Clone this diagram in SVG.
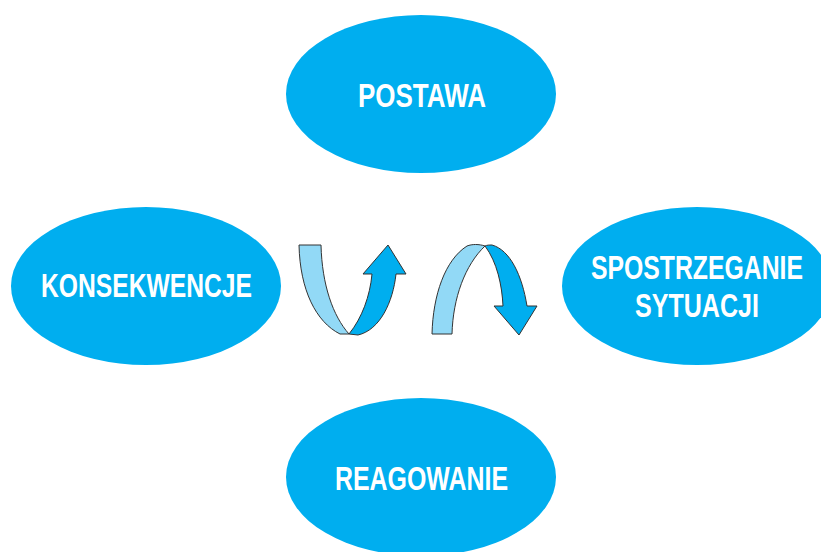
<svg xmlns="http://www.w3.org/2000/svg" width="821" height="552" viewBox="0 0 821 552">
<style>
.node{fill:#00AEEF}
.lbl{fill:#ffffff;font-family:"Liberation Sans",Arial,sans-serif;font-weight:bold;font-size:33px}
.light{fill:#92D9F6;stroke:#333333;stroke-width:1;stroke-linejoin:round}
.dark{fill:#00AEEF;stroke:#333333;stroke-width:1;stroke-linejoin:round}
</style>
<rect width="821" height="552" fill="#ffffff"/>
<g id="postawa">
<ellipse class="node" cx="421" cy="94" rx="135" ry="79"/>
<text class="lbl" x="358" y="107" textLength="128" lengthAdjust="spacingAndGlyphs">POSTAWA</text>
</g>
<g id="konsekwencje">
<ellipse class="node" cx="146" cy="286" rx="135" ry="79"/>
<text class="lbl" x="41" y="297" textLength="211" lengthAdjust="spacingAndGlyphs">KONSEKWENCJE</text>
</g>
<g id="spostrzeganie">
<ellipse class="node" cx="697" cy="286" rx="135" ry="79"/>
<text class="lbl" x="591" y="279" textLength="212" lengthAdjust="spacingAndGlyphs">SPOSTRZEGANIE</text>
<text class="lbl" x="635" y="317" textLength="124" lengthAdjust="spacingAndGlyphs">SYTUACJI</text>
</g>
<g id="reagowanie">
<ellipse class="node" cx="421" cy="477" rx="135" ry="79"/>
<text class="lbl" x="335" y="490" textLength="173" lengthAdjust="spacingAndGlyphs">REAGOWANIE</text>
</g>
<g id="connectors">
<path class="light" d="M299,245 L321,245 C322,285 333,316 349,334 L340,334 C316,322 300,290 299,245 Z"/>
<path class="dark" d="M349,334 C362,318 370,296 372,274 L363,274 L388,245 L406,274 L396,274 C393,302 380,330 358,335 Z"/>
<path class="light" d="M432,334 L452,334 C453,298 465,265 485,246 C479,244 472,244 467,246 C445,260 433,295 432,334 Z"/>
<path class="dark" d="M485,246 C497,262 502,285 503,306 L494,306 L519,335 L537,306 L527,306 C522,275 510,250 492,245 C489,245 487,245 485,246 Z"/>
</g>
</svg>
